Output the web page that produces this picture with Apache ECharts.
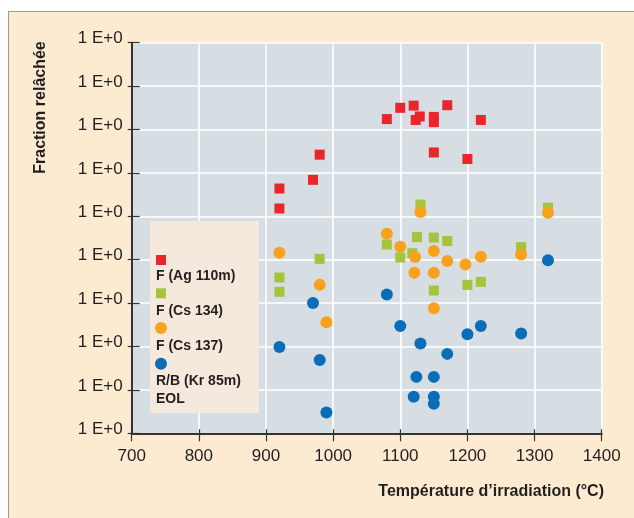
<!DOCTYPE html>
<html><head><meta charset="utf-8">
<script src="https://cdn.jsdelivr.net/npm/echarts@6/dist/echarts.min.js"></script>
<style>
html,body{margin:0;padding:0;background:#fff;}
#wrap{position:relative;width:634px;height:518px;overflow:hidden;}
#bg{position:absolute;left:8px;top:11px;width:640px;height:520px;background:#fdebd1;border-top:1px solid #9a9a9a;border-left:1px solid #9a9a9a;box-sizing:border-box;}
#c{position:absolute;left:0;top:0;width:634px;height:518px;}
</style>
</head><body>
<div id="wrap"><div id="bg"></div><div id="c"></div></div>
<script>
// X axis ticks (°C)
const xTicks = [700, 800, 900, 1000, 1100, 1200, 1300, 1400];
// Y tick labels (as printed on the original, one per decade)
const yTickLabels = ['1 E+0','1 E+0','1 E+0','1 E+0','1 E+0','1 E+0','1 E+0','1 E+0','1 E+0','1 E+0'];
// Series names
const seriesNames = ['F (Ag 110m)', 'F (Cs 134)', 'F (Cs 137)', 'R/B (Kr 85m)'];
// Data: [temperature °C, position in decades from bottom tick]
const ag110m = [[920,5.64],[920,5.18],[970,5.84],[980,6.42],[1080,7.24],[1100,7.50],[1120,7.55],[1123,7.22],[1129,7.30],[1150,7.29],[1150,7.17],[1150,6.47],[1170,7.56],[1200,6.32],[1220,7.22]];
const cs134 = [[920,3.59],[920,3.26],[980,4.02],[1080,4.35],[1100,4.05],[1118,4.15],[1125,4.52],[1130,5.27],[1150,4.51],[1150,3.29],[1170,4.43],[1200,3.42],[1220,3.49],[1280,4.29],[1320,5.20]];
const cs137 = [[920,4.16],[980,3.42],[990,2.56],[1080,4.60],[1100,4.30],[1122,4.06],[1121,3.70],[1130,5.10],[1150,4.20],[1150,3.70],[1150,2.88],[1170,3.97],[1197,3.89],[1220,4.07],[1280,4.12],[1320,5.08]];
const kr85m = [[920,1.99],[970,3.00],[980,1.69],[990,0.48],[1080,3.20],[1100,2.47],[1120,0.84],[1124,1.30],[1130,2.07],[1150,1.30],[1150,0.84],[1150,0.68],[1170,1.83],[1200,2.28],[1220,2.47],[1280,2.30],[1320,3.99]];

const colors = ['#e8262c', '#a6c43b', '#f7a21c', '#0a6db8'];
const FONT = "'Liberation Sans', Arial, sans-serif";
const DARK = '#231f20';

const chart = echarts.init(document.getElementById('c'), null, {renderer: 'canvas'});

const xMin = xTicks[0], xMax = xTicks[xTicks.length - 1], xStep = xTicks[1] - xTicks[0];
const yMax = yTickLabels.length - 1;

const legendItems = [
  {sym: 'rect', color: colors[0], text: seriesNames[0], y: 260, ty: 276.5},
  {sym: 'rect', color: colors[1], text: seriesNames[1], y: 293.3, ty: 311.5},
  {sym: 'circle', color: colors[2], text: seriesNames[2], y: 328, ty: 346},
  {sym: 'circle', color: colors[3], text: seriesNames[3], y: 363.7, ty: 381}
];
const graphics = [
  {type: 'rect', z: 100, shape: {x: 150, y: 221, width: 109, height: 192}, style: {fill: '#f5e8dc'}}
];
legendItems.forEach(function (it) {
  if (it.sym === 'rect') {
    graphics.push({type: 'rect', z: 101, shape: {x: 156, y: it.y - 5, width: 10, height: 10}, style: {fill: it.color}});
  } else {
    graphics.push({type: 'circle', z: 101, shape: {cx: 161, cy: it.y, r: 6}, style: {fill: it.color}});
  }
  graphics.push({type: 'text', z: 101, x: 156, y: it.ty, style: {text: it.text, fill: DARK, font: 'bold 14px ' + FONT, textAlign: 'left', textVerticalAlign: 'middle'}});
});
graphics.push({type: 'text', z: 101, x: 156, y: 399, style: {text: 'EOL', fill: DARK, font: 'bold 14px ' + FONT, textAlign: 'left', textVerticalAlign: 'middle'}});
graphics.push({type: 'text', z: 101, x: 41, y: 107.5, rotation: Math.PI / 2, style: {text: 'Fraction relâchée', fill: DARK, font: 'bold 16px ' + FONT, textAlign: 'center', textVerticalAlign: 'middle'}});
graphics.push({type: 'text', z: 101, x: 604, y: 491.5, style: {text: 'Température d\u2019irradiation (°C)', fill: DARK, font: 'bold 16px ' + FONT, textAlign: 'right', textVerticalAlign: 'middle'}});

const option = {
  animation: false,
  backgroundColor: 'transparent',
  grid: {left: 131.7, top: 42.7, width: 470, height: 390.6, show: true, backgroundColor: '#d6dee3', borderWidth: 0, containLabel: false},
  xAxis: [{
    type: 'value', min: xMin, max: xMax, interval: xStep, position: 'bottom',
    axisLine: {show: true, onZero: false, lineStyle: {color: '#333', width: 2}},
    axisTick: {show: true, inside: false, length: 8, lineStyle: {color: '#333', width: 1.2}},
    axisLabel: {show: true, margin: 15, color: DARK, fontSize: 17, fontFamily: FONT,
      formatter: function (v) { return String(v); }},
    splitLine: {show: true, lineStyle: {color: '#ffffff', width: 1.5}}
  }, {
    type: 'value', min: xMin, max: xMax, interval: xStep, position: 'bottom',
    axisLine: {show: false, onZero: false},
    axisTick: {show: true, inside: true, length: 4, lineStyle: {color: '#333', width: 1.2}},
    axisLabel: {show: false}, splitLine: {show: false}
  }],
  yAxis: [{
    type: 'value', min: 0, max: yMax, interval: 1, position: 'left',
    axisLine: {show: true, onZero: false, lineStyle: {color: '#333', width: 2}},
    axisTick: {show: true, inside: false, length: 4, lineStyle: {color: '#333', width: 1.2}},
    axisLabel: {show: true, margin: 9, color: DARK, fontSize: 17, fontFamily: FONT,
      verticalAlign: 'bottom', lineHeight: 8,
      formatter: function (v) { return yTickLabels[Math.round(v)]; }},
    splitLine: {show: true, lineStyle: {color: '#ffffff', width: 1.5}}
  }, {
    type: 'value', min: 0, max: yMax, interval: 1, position: 'left',
    axisLine: {show: false, onZero: false},
    axisTick: {show: true, inside: true, length: 8, lineStyle: {color: '#333', width: 1.2}},
    axisLabel: {show: false}, splitLine: {show: false}
  }],
  series: [
    {name: seriesNames[0], type: 'scatter', data: ag110m, symbol: 'rect', symbolSize: 10, itemStyle: {color: colors[0], opacity: 1}},
    {name: seriesNames[1], type: 'scatter', data: cs134, symbol: 'rect', symbolSize: 10, itemStyle: {color: colors[1], opacity: 1}},
    {name: seriesNames[2], type: 'scatter', data: cs137, symbol: 'circle', symbolSize: 12, itemStyle: {color: colors[2], opacity: 1}},
    {name: seriesNames[3], type: 'scatter', data: kr85m, symbol: 'circle', symbolSize: 12, itemStyle: {color: colors[3], opacity: 1}}
  ],
  graphic: graphics
};
chart.setOption(option);
</script>
</body></html>
